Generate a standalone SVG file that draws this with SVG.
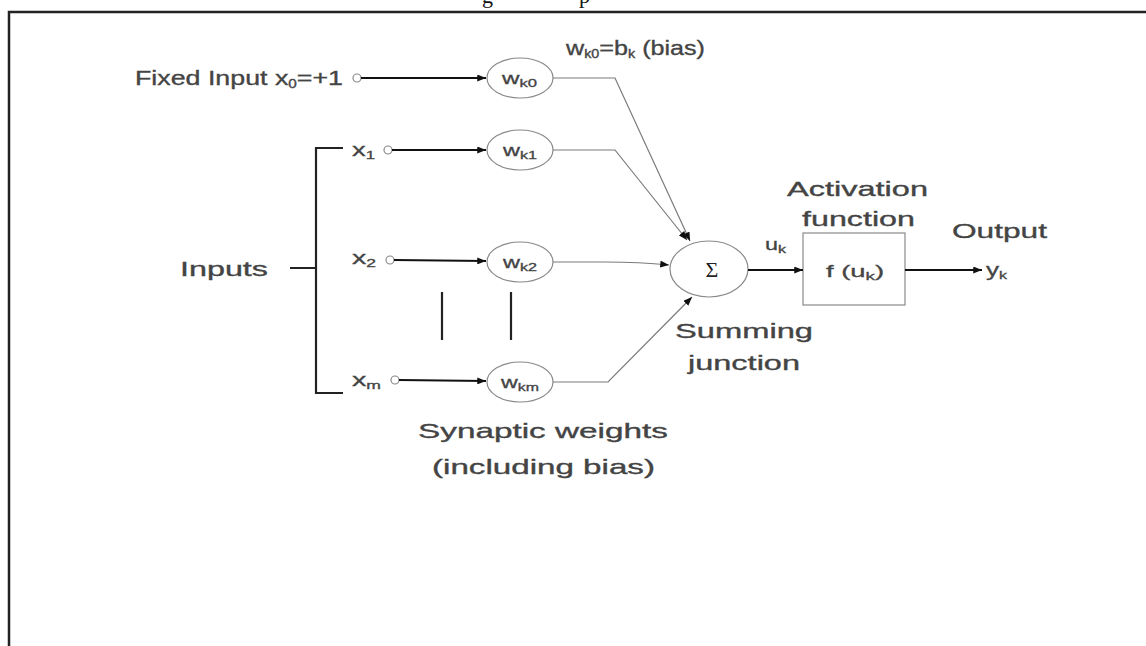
<svg xmlns="http://www.w3.org/2000/svg" width="1146" height="646" viewBox="0 0 1146 646">
<defs>
<marker id="ah" viewBox="0 0 10 8" refX="10" refY="4" markerWidth="9" markerHeight="7" markerUnits="userSpaceOnUse" orient="auto">
<path d="M0,0 L10,4 L0,8 z" fill="#111"/>
</marker>
<style>
.t{font-family:"Liberation Sans",Arial,sans-serif;fill:#444;stroke:#444;stroke-width:0.35;font-size:21px}
.s{font-family:"Liberation Sans",Arial,sans-serif;fill:#444;stroke:#444;stroke-width:0.3;font-size:18px}
.w{font-family:"Liberation Sans",Arial,sans-serif;fill:#444;stroke:#444;stroke-width:0.3;font-size:16px}
.node{fill:none;stroke:#8a8a8a;stroke-width:1.2}
.in{fill:#fff;stroke:#8a8a8a;stroke-width:1.2}
.arr{fill:none;stroke:#111;stroke-width:2.2}
.con{fill:none;stroke:#7a7a7a;stroke-width:1.2}
.bk{fill:none;stroke:#222;stroke-width:2.2}
</style>
</defs>
<rect width="1146" height="646" fill="#fff"/>
<text x="482" y="3" font-family="'Liberation Serif',serif" font-size="22" fill="#111">g</text>
<text x="579" y="3" font-family="'Liberation Serif',serif" font-size="22" fill="#111">p</text>
<path d="M9,646 L9,12 L1146,12" fill="none" stroke="#222" stroke-width="2.5"/>

<g id="bias-label"><text class="t" x="566" y="55" textLength="139" lengthAdjust="spacingAndGlyphs">w<tspan font-size="12" dy="3">k0</tspan><tspan dy="-3">=b</tspan><tspan font-size="12" dy="3">k</tspan><tspan dy="-3"> (bias)</tspan></text></g>

<g id="input-x0"><text class="t" x="135" y="85" textLength="208" lengthAdjust="spacingAndGlyphs">Fixed Input x<tspan font-size="12" dy="3">0</tspan><tspan dy="-3">=+1</tspan></text><circle class="in" cx="357" cy="78" r="4"/></g>
<g id="input-x1"><text class="s" x="352" y="156" textLength="23" lengthAdjust="spacingAndGlyphs">x<tspan font-size="11" dy="3">1</tspan></text><circle class="in" cx="388" cy="150" r="4"/></g>
<g id="input-x2"><text class="s" x="352" y="264" textLength="24" lengthAdjust="spacingAndGlyphs">x<tspan font-size="11" dy="3">2</tspan></text><circle class="in" cx="390" cy="260" r="4"/></g>
<g id="input-xm"><text class="s" x="352" y="386" textLength="29" lengthAdjust="spacingAndGlyphs">x<tspan font-size="11" dy="3">m</tspan></text><circle class="in" cx="395" cy="380" r="4"/></g>

<g id="inputs-label"><text class="t" x="180" y="276" textLength="88" lengthAdjust="spacingAndGlyphs">Inputs</text>
<path class="bk" d="M343,148 L316,148 L316,393 L343,393 M316,268 L290,268"/></g>

<g id="w-k0"><ellipse class="node" cx="520" cy="78" rx="33" ry="20"/><text class="w" x="502" y="84" textLength="35" lengthAdjust="spacingAndGlyphs">w<tspan font-size="11" dy="3">k0</tspan></text></g>
<g id="w-k1"><ellipse class="node" cx="520" cy="150" rx="33" ry="20"/><text class="w" x="503" y="156" textLength="34" lengthAdjust="spacingAndGlyphs">w<tspan font-size="11" dy="3">k1</tspan></text></g>
<g id="w-k2"><ellipse class="node" cx="520" cy="262" rx="33" ry="20"/><text class="w" x="503" y="268" textLength="34" lengthAdjust="spacingAndGlyphs">w<tspan font-size="11" dy="3">k2</tspan></text></g>
<g id="w-km"><ellipse class="node" cx="520" cy="382" rx="33" ry="20"/><text class="w" x="501" y="388" textLength="38" lengthAdjust="spacingAndGlyphs">w<tspan font-size="11" dy="3">km</tspan></text></g>

<g id="ellipsis"><path class="bk" d="M442,292 L442,340 M511,292 L511,340"/></g>

<g id="sum"><ellipse class="node" cx="709" cy="269" rx="39" ry="28"/><text x="712" y="277" text-anchor="middle" font-family="'Liberation Serif',serif" font-size="22" fill="#222">Σ</text>
<text class="t" x="675" y="338" textLength="138" lengthAdjust="spacingAndGlyphs">Summing</text>
<text class="t" x="688" y="370" textLength="112" lengthAdjust="spacingAndGlyphs">junction</text></g>

<g id="activation"><rect class="node" x="803" y="233" width="102" height="72"/>
<text class="w" x="826" y="277" textLength="58" lengthAdjust="spacingAndGlyphs">f (u<tspan font-size="11" dy="3">k</tspan><tspan dy="-3">)</tspan></text>
<text class="t" x="787" y="196" textLength="141" lengthAdjust="spacingAndGlyphs">Activation</text>
<text class="t" x="802" y="226" textLength="113" lengthAdjust="spacingAndGlyphs">function</text></g>

<g id="uk-label"><text class="w" x="765" y="250" textLength="21" lengthAdjust="spacingAndGlyphs">u<tspan font-size="11" dy="3">k</tspan></text></g>

<g id="output"><text class="t" x="952" y="238" textLength="95" lengthAdjust="spacingAndGlyphs">Output</text>
<text class="s" x="986" y="276" textLength="21" lengthAdjust="spacingAndGlyphs">y<tspan font-size="11" dy="3">k</tspan></text></g>

<g id="weights-label"><text class="t" x="418" y="438" textLength="250" lengthAdjust="spacingAndGlyphs">Synaptic weights</text>
<text class="t" x="432" y="474" textLength="223" lengthAdjust="spacingAndGlyphs">(including bias)</text></g>

<g id="connectors">
<path class="arr" d="M361,78 L486,78" marker-end="url(#ah)"/>
<path class="arr" d="M392,150 L486,150" marker-end="url(#ah)"/>
<path class="arr" d="M394,260 L486,261" marker-end="url(#ah)"/>
<path class="arr" d="M399,380 L486,381" marker-end="url(#ah)"/>
<path class="con" d="M553,78 L615,78 L690,241" marker-end="url(#ah)"/>
<path class="con" d="M553,150 L615,150 L687,240" marker-end="url(#ah)"/>
<path class="con" d="M553,262 L605,262 Q640,262 669,265" marker-end="url(#ah)"/>
<path class="con" d="M553,382 L608,382 L692,297" marker-end="url(#ah)"/>
<path class="arr" d="M748,270 L803,270" marker-end="url(#ah)"/>
<path class="arr" d="M905,270 L982,270" marker-end="url(#ah)"/>
</g>
</svg>
